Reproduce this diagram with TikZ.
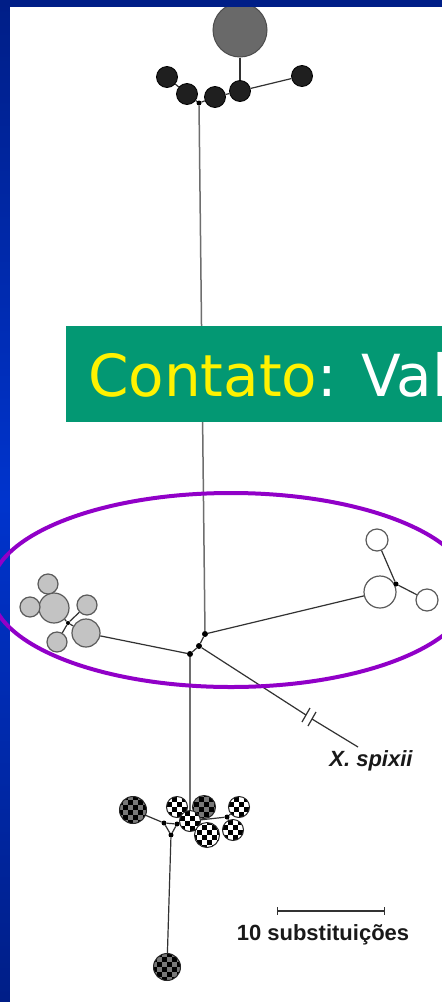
\documentclass[tikz,border=0pt]{standalone}
\usepackage{fontspec}
\usetikzlibrary{shapes.geometric}
\setmainfont{Liberation Sans}
\newfontfamily\boxfont{DejaVu Sans}
\definecolor{navy}{RGB}{0,30,135}
\definecolor{brightblue}{RGB}{0,52,205}
\definecolor{boxgreen}{RGB}{3,152,115}
\definecolor{ringpurple}{RGB}{145,0,200}
\definecolor{edgegray}{RGB}{50,50,50}
\definecolor{stemgray}{RGB}{110,110,110}
\definecolor{bigfill}{RGB}{105,105,105}
\definecolor{grayfill}{RGB}{195,195,195}
\definecolor{darkchk}{RGB}{120,120,120}
\tikzset{
  edge/.style={draw=edgegray, line width=1.2pt},
  stem/.style={draw=stemgray, line width=1.5pt},
  dot/.style={circle, fill=black, inner sep=0pt, minimum size=#1},
  dot/.default=5pt,
  blk/.style={circle, fill=black!88, draw=black, line width=0.8pt, inner sep=0pt, minimum size=21pt},
  gry/.style={circle, fill=grayfill, draw=edgegray!80, line width=1.2pt, inner sep=0pt, minimum size=#1},
  wht/.style={circle, fill=white, draw=edgegray!80, line width=1.2pt, inner sep=0pt, minimum size=#1},
  chkbase/.style={circle, draw=black!85, line width=1pt, inner sep=0pt, minimum size=#1,
    path picture={
      \foreach \i in {-4,...,3}{\foreach \j in {-4,...,3}{
        \pgfmathtruncatemacro\chkpar{mod(\i+\j+8,2)}
        \ifnum\chkpar=0
          \fill[black] ([shift={(\i*5pt,\j*5pt)}]path picture bounding box.center) rectangle ++(5pt,5pt);
        \fi
      }}
    }},
  chkL/.style={chkbase=#1, fill=white},
  chkD/.style={chkbase=#1, fill=darkchk},
  lbl/.style={inner sep=0pt, font=\bfseries\fontsize{22}{22}\selectfont, text=black!90}
}
\begin{document}
\begin{tikzpicture}[x=1pt,y=-1pt]
\useasboundingbox (0,0) rectangle (442,1002);
% slide background
\shade[top color=navy, bottom color=navy, middle color=brightblue] (0,0) rectangle (442,1002);
\fill[white] (10,7) rectangle (442,1002);

% ---------- top cluster ----------
\node[circle, fill=bigfill, draw=black!70, line width=1pt, inner sep=0pt, minimum size=54pt] (big) at (240,30) {};
\node[blk] (k1) at (167,77) {};
\node[blk] (k2) at (187,94) {};
\node[blk] (k3) at (215,97) {};
\node[blk] (k4) at (240,91) {};
\node[blk] (k5) at (302,76) {};
\node[dot] (d0) at (199,103) {};
\draw[edge] (big) -- (k4);
\draw[edge] (k4) -- (k5);
\draw[edge] (k1) -- (k2);
\draw[edge] (k2) -- (d0);
\draw[edge] (d0) -- (k3);
\draw[edge] (k3) -- (k4);

% ---------- central junctions ----------
\node[dot=6pt] (J1) at (205,634) {};
\node[dot=6pt] (J2) at (199,646) {};
\node[dot=6pt] (J3) at (190,654) {};
\draw[stem] (d0) -- (J1);
\draw[edge] (J1) -- (J2);
\draw[edge] (J2) -- (J3);

% ---------- white cluster ----------
\node[wht=32pt] (w0) at (380,592) {};
\node[wht=22pt] (w1) at (377,540) {};
\node[wht=22pt] (w2) at (427,600) {};
\node[dot] (wd) at (396,584) {};
\draw[edge] (J1) -- (w0);
\draw[edge] (wd) -- (w1);
\draw[edge] (wd) -- (w2);

% ---------- gray cluster ----------
\node[gry=28pt] (g0) at (86,633) {};
\node[gry=30pt] (g1) at (54,608) {};
\node[gry=20pt] (g2) at (48,584) {};
\node[gry=20pt] (g3) at (30,607) {};
\node[gry=20pt] (g4) at (87,605) {};
\node[gry=20pt] (g5) at (57,642) {};
\node[dot=4pt] (gd) at (68,623) {};
\draw[edge] (J3) -- (g0);
\draw[edge] (gd) -- (g0);
\draw[edge] (gd) -- (g1);
\draw[edge] (gd) -- (g4);
\draw[edge] (gd) -- (g5);

% ---------- X. spixii branch ----------
\coordinate (b1) at (306,715);
\coordinate (b2) at (312,719);
\coordinate (spx) at (358,747);
\draw[edge] (J2) -- (b1);
\draw[edge] (b2) -- (spx);
\draw[edge] ([shift={(-4,7)}]b1) -- ([shift={(4,-7)}]b1);
\draw[edge] ([shift={(-4,7)}]b2) -- ([shift={(4,-7)}]b2);
\node[lbl, font=\bfseries\itshape\fontsize{22}{22}\selectfont] (spixii) at (371,761) {X. spixii};

% ---------- checkered cluster ----------
\node[dot] (e1) at (164,823) {};
\node[dot] (e2) at (177,824) {};
\node[dot] (e3) at (171,835) {};
\node[dot] (e4) at (227,817) {};
\draw[edge] (e1) -- (e2) -- (e3) -- (e1);
\node[chkD=27pt] (c1) at (133,810) {};
\node[chkL=21pt] (c2) at (177,807) {};
\node[chkD=23pt] (c3) at (204,807) {};
\node[chkL=21pt] (c4) at (190,821) {};
\node[chkL=25pt] (c5) at (207,835) {};
\node[chkL=21pt] (c6) at (239,807) {};
\node[chkL=21pt] (c7) at (233,830) {};
\node[chkD=27pt] (c8) at (167,967) {};
\draw[stem] (J3) -- (c4);
\draw[edge] (c1) -- (e1);
\draw[edge] (e2) -- (c4);
\draw[edge] (c4) -- (e4);
\draw[edge] (e4) -- (c6);
\draw[edge] (e4) -- (c7);
\draw[edge] (e3) -- (c8);

% ---------- scale bar ----------
\coordinate (sb1) at (277,911);
\coordinate (sb2) at (385,911);
\draw[edge, |-|] (sb1) -- (sb2);
\node[lbl] (scalelbl) at (323,935) {10 substituições};

% ---------- contact banner ----------
\fill[boxgreen] (66,326) rectangle (442,422);
\node[anchor=base west, inner sep=0pt, font=\boxfont\fontsize{58}{58}\selectfont] (contato) at (88,396)
  {\textcolor{yellow}{Contato}\textcolor{white}{: Val}};

% top strip over the picture
\fill[navy] (0,0) rectangle (442,7);

% ---------- purple ring ----------
\node[draw=ringpurple, line width=4pt, ellipse, inner sep=0pt, minimum width=480pt, minimum height=194pt] (ring) at (231,590) {};
\end{tikzpicture}
\end{document}
